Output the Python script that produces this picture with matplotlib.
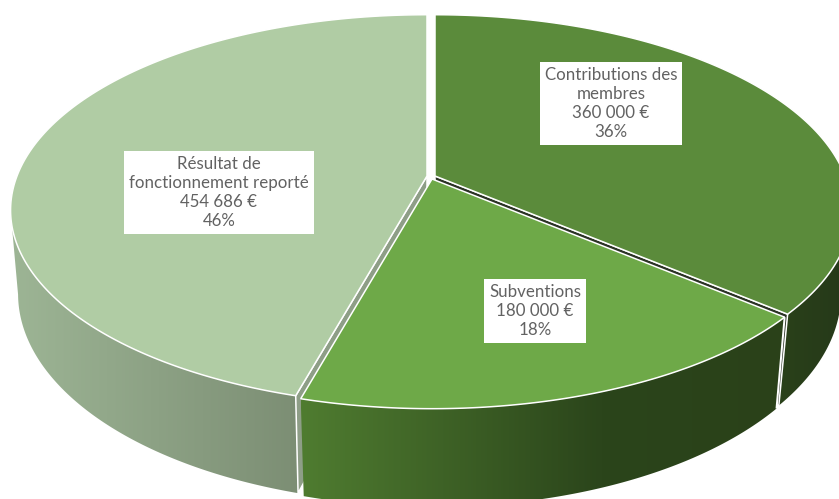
import numpy as np
import matplotlib
matplotlib.use("Agg")
import matplotlib.pyplot as plt
from matplotlib.patches import Polygon
from matplotlib.colors import LinearSegmentedColormap

# Budget breakdown
categories = ["Contributions des\nmembres", "Subventions", "Résultat de\nfonctionnement reporté"]
amounts = [360000, 180000, 454686]

# Styling of each slice, in category order
top_colors = ["#5B8B3B", "#6EA948", "#B0CCA4"]
wall_stops = [[(0, "#2A4119"), (1, "#25381A")],
              [(0, "#4F7C30"), (0.62, "#2B451B"), (1, "#2A4119")],
              [(0, "#9DB595"), (1, "#7C8E74")]]
cut_colors = ["#2B3325", None, "#8E9E87"]
apexes = [(435, 176), (432, 179), (427, 176)]
shrinks = [0.975, 0.977, 0.982]
label_spots = [(611, 103.5), (535, 311), (219, 192.5)]

W, H = 839, 499
A, B, K = 410.0, 189.5, 0.175      # perspective disc: half-width, half-depth, foreshortening
DROP = 81.0                        # extrusion height at the disc centre
EDGE = "white"
LW = 1.1

fig = plt.figure(figsize=(W / 100, H / 100), dpi=100)
ax = fig.add_axes([0, 0, 1, 1])
ax.axis("off")


def rim(theta, apex, shrink=None):
    """Project clockwise-from-north angles (radians) onto the tilted disc.

    With a shrink factor the point lands on the lower rim of the extruded pie.
    """
    theta = np.atleast_1d(theta)
    u, v = np.sin(theta), np.cos(theta)
    den = 1 + K * v
    x = A * u / den
    y = -B * v / den
    if shrink is not None:
        x = x * shrink
        y = y + DROP / den
    return np.column_stack([apex[0] + x, apex[1] + y])


def gradient_wall(points, stops, zorder):
    """Fill a polygon with a left-to-right gradient."""
    poly = Polygon(points, closed=True, facecolor="none", edgecolor="none")
    ax.add_patch(poly)
    cmap = LinearSegmentedColormap.from_list("wall", stops)
    ramp = np.linspace(0, 1, 256)[None, :]
    im = ax.imshow(ramp, cmap=cmap, vmin=0, vmax=1, aspect="auto", zorder=zorder,
                   extent=[points[:, 0].min(), points[:, 0].max(),
                           points[:, 1].max(), points[:, 1].min()])
    im.set_clip_path(poly)


total = sum(amounts)
edges = np.concatenate([[0], np.cumsum(amounts)]) / total * 2 * np.pi
SIDE = 0.18   # how far past east/west the wall stays visible

# Middle slice sits in front of its two neighbours
for z, i in [(1, 0), (1, 2), (5, 1)]:
    t0, t1 = edges[i], edges[i + 1]
    apex, s = apexes[i], shrinks[i]

    # Outer wall, limited to the part facing the viewer
    wall_t = np.linspace(max(t0, np.pi / 2 + SIDE), min(t1, 3 * np.pi / 2 - SIDE), 300)
    wall = np.vstack([rim(wall_t, apex), rim(wall_t, apex, s)[::-1]])
    gradient_wall(wall, wall_stops[i], z)

    # Cut face exposed along the exploded radial edge
    if cut_colors[i]:
        cut_t = t1 if i == 0 else t0
        cut = np.vstack([[apex], rim(cut_t, apex), rim(cut_t, apex, s), [[apex[0], apex[1] + DROP]]])
        ax.add_patch(Polygon(cut, closed=True, facecolor=cut_colors[i], edgecolor=EDGE,
                             lw=LW, zorder=z + 0.1))
    else:
        ax.plot(*np.vstack([rim(t0, apex), rim(t0, apex, s)]).T, color=EDGE, lw=LW * 1.3,
                zorder=z + 0.2, solid_capstyle="butt")

    # Top face with its white outline
    face = np.vstack([[apex], rim(np.linspace(t0, t1, 300), apex)])
    ax.add_patch(Polygon(face, closed=True, facecolor=top_colors[i], edgecolor=EDGE,
                         lw=LW, joinstyle="miter", zorder=z + 0.5))

# Data labels on white plates
for name, value, (lx, ly) in zip(categories, amounts, label_spots):
    money = f"{value:,}".replace(",", "\u00a0") + "\u00a0€"
    pct = f"{round(100 * value / total)}%"
    ax.text(lx, ly, f"{name}\n{money}\n{pct}", ha="center", va="center", family="Lato",
            fontsize=12.2, color="#626262", linespacing=1.25, zorder=10,
            bbox=dict(facecolor="white", edgecolor="none", pad=3.6))

ax.set_xlim(0, W)
ax.set_ylim(H, 0)
fig.savefig("out.png", dpi=100, facecolor="white")
